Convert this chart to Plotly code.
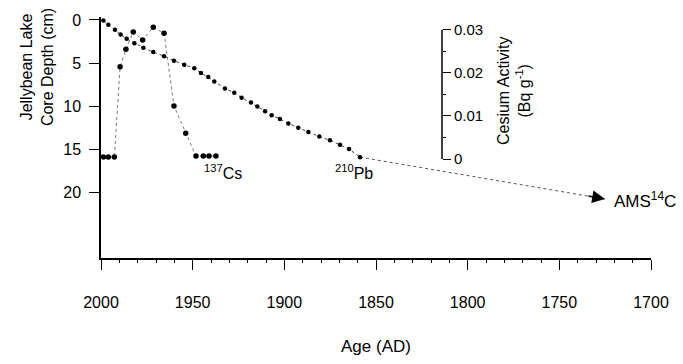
import plotly.graph_objects as go

# ---- data ----
pb_age = [1998.7, 1996.0, 1992.4, 1989.3, 1986.0, 1981.8, 1976.9, 1971.5, 1965.6, 1960.2,
          1954.6, 1949.1, 1945.5, 1941.5, 1938.2, 1932.4, 1927.3, 1923.3, 1918.2, 1914.7,
          1910.5, 1906.9, 1902.4, 1897.8, 1892.4, 1886.9, 1880.9, 1875.1, 1869.6, 1864.7, 1858.7]
pb_depth = [0.08, 0.57, 1.14, 1.70, 2.19, 2.69, 3.22, 3.72, 4.20, 4.74,
            5.19, 5.60, 6.14, 6.63, 7.13, 7.95, 8.44, 9.01, 9.58, 10.03,
            10.60, 11.06, 11.48, 12.01, 12.50, 12.99, 13.52, 13.94, 14.47, 14.97, 15.91]

cs_age = [1998.7, 1996.0, 1992.7, 1989.6, 1986.4, 1982.4, 1977.3, 1971.5, 1965.6,
          1960.2, 1953.8, 1948.2, 1944.2, 1941.1, 1937.3]
cs_act = [0.0005, 0.0005, 0.0005, 0.0214, 0.0255, 0.0295, 0.0276, 0.0306, 0.0292,
          0.0123, 0.0060, 0.0007, 0.0007, 0.0007, 0.0007]

ams_age = [1858.7, 1725.1]
ams_depth = [15.91, 20.76]

depth_ticks = [0, 5, 10, 15, 20]
age_ticks = [2000, 1950, 1900, 1850, 1800, 1750, 1700]
cs_ticks = [0, 0.01, 0.02, 0.03]
cs_ticktext = ["0", "0.01", "0.02", "0.03"]
cs_minor = [0.005, 0.015, 0.025]

FONT = "Liberation Sans, Arial, Helvetica, sans-serif"

fig = go.Figure()

# AMS extrapolation (dotted)
fig.add_trace(go.Scatter(x=ams_age, y=ams_depth, mode="lines",
                         line=dict(color="#555555", width=1, dash="dot"),
                         hoverinfo="skip", showlegend=False))

# 210Pb depth-age
fig.add_trace(go.Scatter(x=pb_age, y=pb_depth, mode="lines+markers",
                         line=dict(color="#444444", width=1, dash="dot"),
                         marker=dict(color="black", size=4.5),
                         showlegend=False))

# 137Cs activity
fig.add_trace(go.Scatter(x=cs_age, y=cs_act, yaxis="y2", mode="lines+markers",
                         line=dict(color="#777777", width=1, dash="dot"),
                         marker=dict(color="black", size=5.5),
                         showlegend=False))

# pixel geometry of the secondary axis
px_per_unit = 132 / 0.03
y2_lo = (157 - 258) / px_per_unit
y2_hi = (157 - 12) / px_per_unit
y2_pos = (442 - 101) / 550

fig.update_layout(
    width=683, height=364,
    margin=dict(l=101, r=32, t=12, b=106),
    paper_bgcolor="white", plot_bgcolor="white",
    font=dict(family=FONT, color="black", size=15),
    xaxis=dict(range=[2000, 1700], tickvals=age_ticks, ticks="outside", ticklen=10,
               tickwidth=1.2, tickcolor="black", showline=True, linecolor="black",
               linewidth=1.5, showgrid=False, zeroline=False,
               ticklabelstandoff=19, tickfont=dict(size=16),
               minor=dict(dtick=10, ticks="outside", ticklen=3, tickcolor="black", tickwidth=1)),
    yaxis=dict(range=[27.6, -0.34], tickvals=depth_ticks, ticks="outside", ticklen=10,
               tickwidth=1.2, tickcolor="black", showline=True, linecolor="black",
               linewidth=1.5, showgrid=False, zeroline=False, ticklabelstandoff=5,
               tickfont=dict(size=16)),
    yaxis2=dict(overlaying="y", anchor="free", position=y2_pos, side="right",
                range=[y2_lo, y2_hi], tickvals=cs_ticks, ticktext=cs_ticktext,
                ticks="outside", ticklen=8, tickwidth=1.2, tickcolor="black",
                showline=False, showgrid=False, zeroline=False, ticklabelstandoff=0,
                tickfont=dict(size=15),
                minor=dict(tickvals=cs_minor, ticks="outside", ticklen=3,
                           tickcolor="black", tickwidth=1)),
)

# cesium axis line limited to 0..0.03
fig.add_shape(type="line", xref="paper", yref="y2",
              x0=y2_pos, x1=y2_pos, y0=cs_ticks[0], y1=cs_ticks[-1],
              line=dict(color="black", width=1.5))

# arrow head at end of AMS line
fig.add_annotation(x=ams_age[1], y=ams_depth[1], xref="x", yref="y", text="",
                   showarrow=True, arrowhead=2, arrowsize=1.6, arrowwidth=1.6,
                   arrowcolor="black", ax=-18, ay=-3.2)

fig.add_annotation(x=-0.116, y=0.793, xref="paper", yref="paper",
                   xanchor="center", yanchor="middle",
                   text="Jellybean Lake<br>Core Depth (cm)", textangle=-90,
                   showarrow=False, font=dict(size=16))
fig.add_annotation(x=0.752, y=0.691, xref="paper", yref="paper",
                   xanchor="center", yanchor="middle",
                   text="Cesium Activity<br>(Bq g<sup>-1</sup>)", textangle=-90,
                   showarrow=False, font=dict(size=16))
fig.add_annotation(x=0.5, y=-0.366, xref="paper", yref="paper", text="Age (AD)",
                   xanchor="center", yanchor="middle",
                   showarrow=False, font=dict(size=17))
fig.add_annotation(x=1945.0, y=17.6, xref="x", yref="y", xanchor="left",
                   text="<sup>137</sup>Cs", showarrow=False, font=dict(size=16))
fig.add_annotation(x=1862.0, y=17.6, xref="x", yref="y", xanchor="center",
                   text="<sup>210</sup>Pb", showarrow=False, font=dict(size=16))
fig.add_annotation(x=1721.5, y=20.9, xref="x", yref="y", xanchor="left",
                   text="AMS<sup>14</sup>C", showarrow=False, font=dict(size=17))

fig.write_html("out.html")
